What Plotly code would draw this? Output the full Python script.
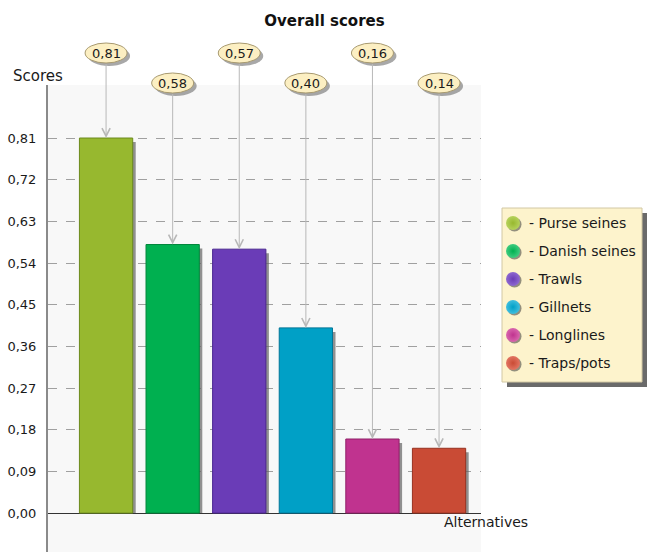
import plotly.graph_objects as go

# --- data -------------------------------------------------------------
alternatives = ["Purse seines", "Danish seines", "Trawls", "Gillnets", "Longlines", "Traps/pots"]
scores = [0.81, 0.58, 0.57, 0.40, 0.16, 0.14]
tick_values = [0.00, 0.09, 0.18, 0.27, 0.36, 0.45, 0.54, 0.63, 0.72, 0.81]
tick_labels = ["0,00", "0,09", "0,18", "0,27", "0,36", "0,45", "0,54", "0,63", "0,72", "0,81"]

fill_colors = ["#97b82f", "#00b050", "#6a3cb7", "#00a0c6", "#c0338f", "#c94b35"]
edge_colors = ["#6b8a1c", "#00863b", "#4a2690", "#007597", "#8f2168", "#983220"]
ball_light = ["#b6d25c", "#40cc80", "#8e68d0", "#40bede", "#d866ad", "#e27562"]

# --- layout constants (pixels) ---------------------------------------
W, H = 649, 552
M_L, M_T = 48, 85
PLOT_W = W - M_L            # right and bottom margins are zero
PLOT_H = H - M_T
CHART_RIGHT = 481           # right edge of the bar chart area
Y_RANGE = [-0.084, 0.9245]
X_RANGE = [-0.872, 5.63]
BAR_W = 0.8
X_DOMAIN_END = (CHART_RIGHT - M_L) / PLOT_W
PX_PER_Y = PLOT_H / (Y_RANGE[1] - Y_RANGE[0])
PX_PER_X = (CHART_RIGHT - M_L) / (X_RANGE[1] - X_RANGE[0])

# value bubbles alternate between two rows above the chart area
BUBBLE_ROWS_PX = [53, 83]

# legend box
LEG_L, LEG_R, LEG_T, LEG_B = 502, 642, 208, 382
LEG_SHADOW = 5
LEG_FIRST_ROW, LEG_ROW_GAP = 223, 28
LEG_BALL_X, LEG_TEXT_X = 513, 527

FONT = "DejaVu Sans, Verdana, sans-serif"
TEXT_COL = "#1a1a1a"


def px_to_data_y(py):
    return Y_RANGE[1] + (M_T - py) / PX_PER_Y


def px_x_to_paper(px):
    return (px - M_L) / PLOT_W


def px_y_to_paper(py):
    return 1 - (py - M_T) / PLOT_H


def data_y_to_paper(v):
    return (v - Y_RANGE[0]) / (Y_RANGE[1] - Y_RANGE[0])


xs = list(range(len(alternatives)))
fig = go.Figure()

# bar drop shadows, offset a few pixels to the right and down
shadow_dx = 3 / PX_PER_X
shadow_dy = 4 / PX_PER_Y
fig.add_trace(go.Bar(
    x=xs, y=[s - shadow_dy for s in scores], base=0,
    width=BAR_W, offset=-BAR_W / 2 + shadow_dx,
    marker=dict(color="rgba(100,100,100,0.7)", line=dict(width=0)),
    showlegend=False, hoverinfo="skip",
))

# the bars
fig.add_trace(go.Bar(
    x=xs, y=scores, width=BAR_W, offset=-BAR_W / 2,
    marker=dict(color=fill_colors, line=dict(color=edge_colors, width=1)),
    showlegend=False,
    customdata=alternatives,
    hovertemplate="%{customdata}: %{y:.2f}<extra></extra>",
))

# legend balls drawn on their own small axes pair (pixel-like units)
leg_rows = [LEG_FIRST_ROW + k * LEG_ROW_GAP for k in range(len(alternatives))]
fig.add_trace(go.Scatter(
    x=[LEG_BALL_X + 1.5] * len(alternatives), y=[r + 1.5 for r in leg_rows],
    xaxis="x2", yaxis="y2", mode="markers",
    marker=dict(size=14, color="rgba(60,60,60,0.55)", line=dict(width=0)),
    showlegend=False, hoverinfo="skip",
))
fig.add_trace(go.Scatter(
    x=[LEG_BALL_X] * len(alternatives), y=leg_rows,
    xaxis="x2", yaxis="y2", mode="markers",
    marker=dict(size=14, color=ball_light,
                gradient=dict(type="radial", color=fill_colors),
                line=dict(width=0)),
    showlegend=False, customdata=alternatives,
    hovertemplate="%{customdata}<extra></extra>",
))

shapes = []
annotations = []

# chart area background
shapes.append(dict(
    type="rect", xref="paper", yref="paper", layer="below",
    x0=0, x1=X_DOMAIN_END, y0=0, y1=1,
    fillcolor="#f8f8f8", line=dict(width=0),
))

# legend box with its drop shadow
shapes.append(dict(
    type="rect", xref="paper", yref="paper", layer="below",
    x0=px_x_to_paper(LEG_L + LEG_SHADOW), x1=px_x_to_paper(LEG_R + LEG_SHADOW),
    y0=px_y_to_paper(LEG_B + LEG_SHADOW), y1=px_y_to_paper(LEG_T + LEG_SHADOW),
    fillcolor="#6a6a6a", line=dict(width=0),
))
shapes.append(dict(
    type="rect", xref="paper", yref="paper", layer="below",
    x0=px_x_to_paper(LEG_L), x1=px_x_to_paper(LEG_R),
    y0=px_y_to_paper(LEG_B), y1=px_y_to_paper(LEG_T),
    fillcolor="#fdf3cc", line=dict(color="#d2c8a4", width=1),
))
for name, row in zip(alternatives, leg_rows):
    annotations.append(dict(
        text="- " + name, xref="x2", yref="y2", x=LEG_TEXT_X, y=row,
        xanchor="left", yanchor="middle", showarrow=False,
        font=dict(family=FONT, size=14, color=TEXT_COL),
    ))

# value bubbles with arrows down to the bars
for i, (x, s) in enumerate(zip(xs, scores)):
    row_px = BUBBLE_ROWS_PX[i % 2]
    y_data = px_to_data_y(row_px)
    y_paper = data_y_to_paper(y_data)
    shapes.append(dict(
        type="circle", xref="x", yref="paper", xsizemode="pixel", ysizemode="pixel",
        xanchor=x, yanchor=y_paper, x0=-18, x1=24, y0=-13, y1=7,
        fillcolor="rgba(110,110,110,0.6)", line=dict(width=0), layer="above",
    ))
    shapes.append(dict(
        type="circle", xref="x", yref="paper", xsizemode="pixel", ysizemode="pixel",
        xanchor=x, yanchor=y_paper, x0=-21, x1=21, y0=-10, y1=10,
        fillcolor="#fcefc2", line=dict(color="#a89a70", width=1), layer="above",
    ))
    annotations.append(dict(
        x=x, y=s, xref="x", yref="y", axref="x", ayref="y", ax=x, ay=y_data,
        text=f"{s:.2f}".replace(".", ","), showarrow=True,
        arrowhead=5, arrowsize=1.6, arrowwidth=1, arrowcolor="#b8b8b8",
        standoff=0, startstandoff=2, borderpad=1,
        font=dict(family=FONT, size=13, color=TEXT_COL),
    ))

# axis captions
annotations.append(dict(
    text="Scores", xref="paper", yref="paper",
    x=px_x_to_paper(38), y=px_y_to_paper(76),
    xanchor="center", yanchor="middle", showarrow=False,
    font=dict(family=FONT, size=15, color=TEXT_COL),
))
annotations.append(dict(
    text="Alternatives", xref="paper", yref="paper",
    x=px_x_to_paper(486), y=px_y_to_paper(522),
    xanchor="center", yanchor="middle", showarrow=False,
    font=dict(family=FONT, size=14, color=TEXT_COL),
))

fig.update_layout(
    width=W, height=H,
    margin=dict(l=M_L, r=0, t=M_T, b=0, pad=0),
    paper_bgcolor="white", plot_bgcolor="rgba(0,0,0,0)",
    barmode="overlay", showlegend=False,
    font=dict(family=FONT, size=13, color=TEXT_COL),
    title=dict(text="<b>Overall scores</b>", x=0.5, xref="container", xanchor="center",
               y=1 - 20.5 / H, yref="container", yanchor="middle",
               font=dict(family=FONT, size=15, color="#111")),
    xaxis=dict(domain=[0, X_DOMAIN_END], range=X_RANGE, showticklabels=False,
               showgrid=False, zeroline=False, showline=False, ticks="", fixedrange=True),
    yaxis=dict(range=Y_RANGE, tickvals=tick_values, ticktext=tick_labels,
               showgrid=True, gridcolor="#a0a0a0", gridwidth=1, griddash="dash",
               zeroline=True, zerolinecolor="#333333", zerolinewidth=1,
               showline=True, linecolor="#8a8a8a", linewidth=2,
               ticks="", ticklabelstandoff=7,
               tickfont=dict(family=FONT, size=13, color=TEXT_COL), fixedrange=True),
    xaxis2=dict(domain=[px_x_to_paper(LEG_L), px_x_to_paper(LEG_R)], range=[LEG_L, LEG_R],
                anchor="y2", visible=False, fixedrange=True),
    yaxis2=dict(domain=[px_y_to_paper(LEG_B), px_y_to_paper(LEG_T)], range=[LEG_B, LEG_T],
                anchor="x2", visible=False, fixedrange=True),
    shapes=shapes, annotations=annotations,
)

fig.write_html("out.html")
